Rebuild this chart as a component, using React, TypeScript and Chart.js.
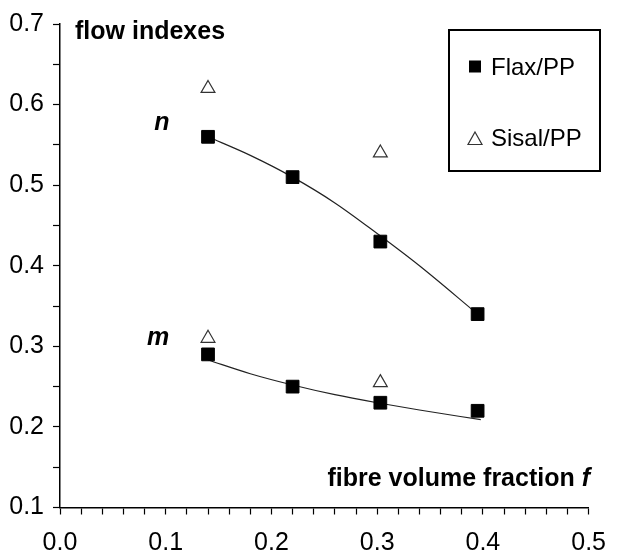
import React, { useEffect, useRef } from "react";
import { Chart, registerables } from "chart.js";

Chart.register(...registerables);

// ---- data ----
const flaxFraction = [0.14, 0.22, 0.303, 0.395];
const flaxN = [0.56, 0.51, 0.43, 0.34];
const flaxM = [0.29, 0.25, 0.23, 0.22];
const sisalFraction = [0.14, 0.303];
const sisalN = [0.62, 0.54];
const sisalM = [0.31, 0.255];
const fitNX = [0.14, 0.18, 0.22, 0.26, 0.3, 0.34, 0.395];
const fitNY = [0.56, 0.537, 0.51, 0.478, 0.44, 0.4, 0.34];
const fitMX = [0.14, 0.18, 0.22, 0.26, 0.3, 0.34, 0.398];
const fitMY = [0.283, 0.266, 0.252, 0.24, 0.23, 0.221, 0.209];
const xTickLabels = ["0.0", "0.1", "0.2", "0.3", "0.4", "0.5"];
const yTickLabels = ["0.1", "0.2", "0.3", "0.4", "0.5", "0.6", "0.7"];
const seriesLabels = ["Flax/PP", "Sisal/PP"];

const FONT = '"Liberation Sans", Arial, Helvetica, sans-serif';
const FS = 25;
const LFS = 24;

const pts = (xs: number[], ys: number[]) => xs.map((x, i) => ({ x, y: ys[i] }));

const overlayPlugin = {
  id: "overlay",
  afterDraw(chart: any) {
    const ctx = chart.ctx as CanvasRenderingContext2D;
    ctx.save();
    ctx.fillStyle = "#000";
    ctx.strokeStyle = "#000";
    ctx.textAlign = "left";
    ctx.textBaseline = "alphabetic";

    // title
    ctx.font = `bold ${FS}px ${FONT}`;
    ctx.fillText("flow indexes", 75, 39);

    // x-axis title, right-aligned
    const part1 = "fibre volume fraction ";
    ctx.font = `bold ${FS}px ${FONT}`;
    const w1 = ctx.measureText(part1).width;
    ctx.font = `italic bold ${FS}px ${FONT}`;
    const w2 = ctx.measureText("f").width;
    const right = 590;
    ctx.font = `bold ${FS}px ${FONT}`;
    ctx.fillText(part1, right - w1 - w2, 486);
    ctx.font = `italic bold ${FS}px ${FONT}`;
    ctx.fillText("f", right - w2, 486);

    // curve labels
    ctx.textAlign = "center";
    ctx.font = `italic bold ${FS}px ${FONT}`;
    ctx.fillText("n", 162, 130);
    ctx.fillText("m", 158, 345);

    // legend
    ctx.lineWidth = 2;
    ctx.strokeRect(449, 30, 151, 141);
    ctx.fillRect(469, 60.5, 12, 12);
    ctx.lineWidth = 1.2;
    ctx.strokeStyle = "#333";
    ctx.beginPath();
    ctx.moveTo(475, 132);
    ctx.lineTo(482, 144.5);
    ctx.lineTo(468, 144.5);
    ctx.closePath();
    ctx.stroke();
    ctx.textAlign = "left";
    ctx.font = `${LFS}px ${FONT}`;
    ctx.fillText(seriesLabels[0], 491, 74.5);
    ctx.fillText(seriesLabels[1], 491, 145.5);
    ctx.restore();
  },
};

export default function App() {
  const ref = useRef<HTMLCanvasElement | null>(null);
  useEffect(() => {
    document.body.style.margin = "0";
    const canvas = ref.current!;
    const isMajor = (v: number) => Math.abs(v * 10 - Math.round(v * 10)) < 1e-6;
    const chart = new Chart(canvas, {
      type: "scatter",
      data: {
        datasets: [
          {
            label: "fit n",
            type: "line",
            data: pts(fitNX, fitNY),
            borderColor: "#222",
            borderWidth: 1.2,
            pointRadius: 0,
            cubicInterpolationMode: "monotone",
            fill: false,
            order: 3,
          } as any,
          {
            label: "fit m",
            type: "line",
            data: pts(fitMX, fitMY),
            borderColor: "#222",
            borderWidth: 1.2,
            pointRadius: 0,
            cubicInterpolationMode: "monotone",
            fill: false,
            order: 3,
          } as any,
          {
            label: seriesLabels[0] + " n",
            data: pts(flaxFraction, flaxN),
            pointStyle: "rect",
            pointRadius: 9,
            backgroundColor: "#000",
            borderColor: "#000",
            borderWidth: 1,
            order: 1,
          },
          {
            label: seriesLabels[0] + " m",
            data: pts(flaxFraction, flaxM),
            pointStyle: "rect",
            pointRadius: 9,
            backgroundColor: "#000",
            borderColor: "#000",
            borderWidth: 1,
            order: 1,
          },
          {
            label: seriesLabels[1] + " n",
            data: pts(sisalFraction, sisalN),
            pointStyle: "triangle",
            pointRadius: 8,
            backgroundColor: "#fff",
            borderColor: "#333",
            borderWidth: 1.2,
            order: 1,
          },
          {
            label: seriesLabels[1] + " m",
            data: pts(sisalFraction, sisalM),
            pointStyle: "triangle",
            pointRadius: 8,
            backgroundColor: "#fff",
            borderColor: "#333",
            borderWidth: 1.2,
            order: 1,
          },
        ],
      },
      options: {
        responsive: false,
        animation: false,
        devicePixelRatio: 1,
        layout: { padding: { top: 20, right: 19, left: 0, bottom: 0 } },
        plugins: { legend: { display: false }, tooltip: { enabled: false } },
        scales: {
          x: {
            type: "linear",
            min: 0,
            max: 0.5,
            afterFit: (s: any) => {
              s.height = 46.5;
            },
            border: { display: true, color: "#000", width: 1.5 },
            grid: {
              drawOnChartArea: false,
              drawTicks: true,
              tickLength: 7,
              tickWidth: 1.2,
              tickColor: "#000",
            },
            ticks: {
              stepSize: 0.02,
              autoSkip: false,
              maxRotation: 0,
              padding: 14,
              color: "#000",
              font: { family: FONT, size: FS },
              callback: (v: any) => (isMajor(Number(v)) ? xTickLabels[Math.round(Number(v) * 10)] : ""),
            },
          },
          y: {
            type: "linear",
            min: 0.1,
            max: 0.7,
            afterFit: (s: any) => {
              s.width = 60;
            },
            border: { display: true, color: "#000", width: 1.5 },
            grid: {
              drawOnChartArea: false,
              drawTicks: true,
              tickLength: 7,
              tickWidth: 1.2,
              tickColor: "#000",
            },
            ticks: {
              stepSize: 0.05,
              autoSkip: false,
              padding: 9,
              color: "#000",
              font: { family: FONT, size: FS },
              callback: (v: any) => (isMajor(Number(v)) ? yTickLabels[Math.round(Number(v) * 10) - 1] : ""),
            },
          },
        },
      },
      plugins: [overlayPlugin],
    });
    return () => chart.destroy();
  }, []);
  return (
    <div style={{ width: 620, height: 554, background: "#fff" }}>
      <canvas ref={ref} width={620} height={554} style={{ display: "block" }} />
    </div>
  );
}
